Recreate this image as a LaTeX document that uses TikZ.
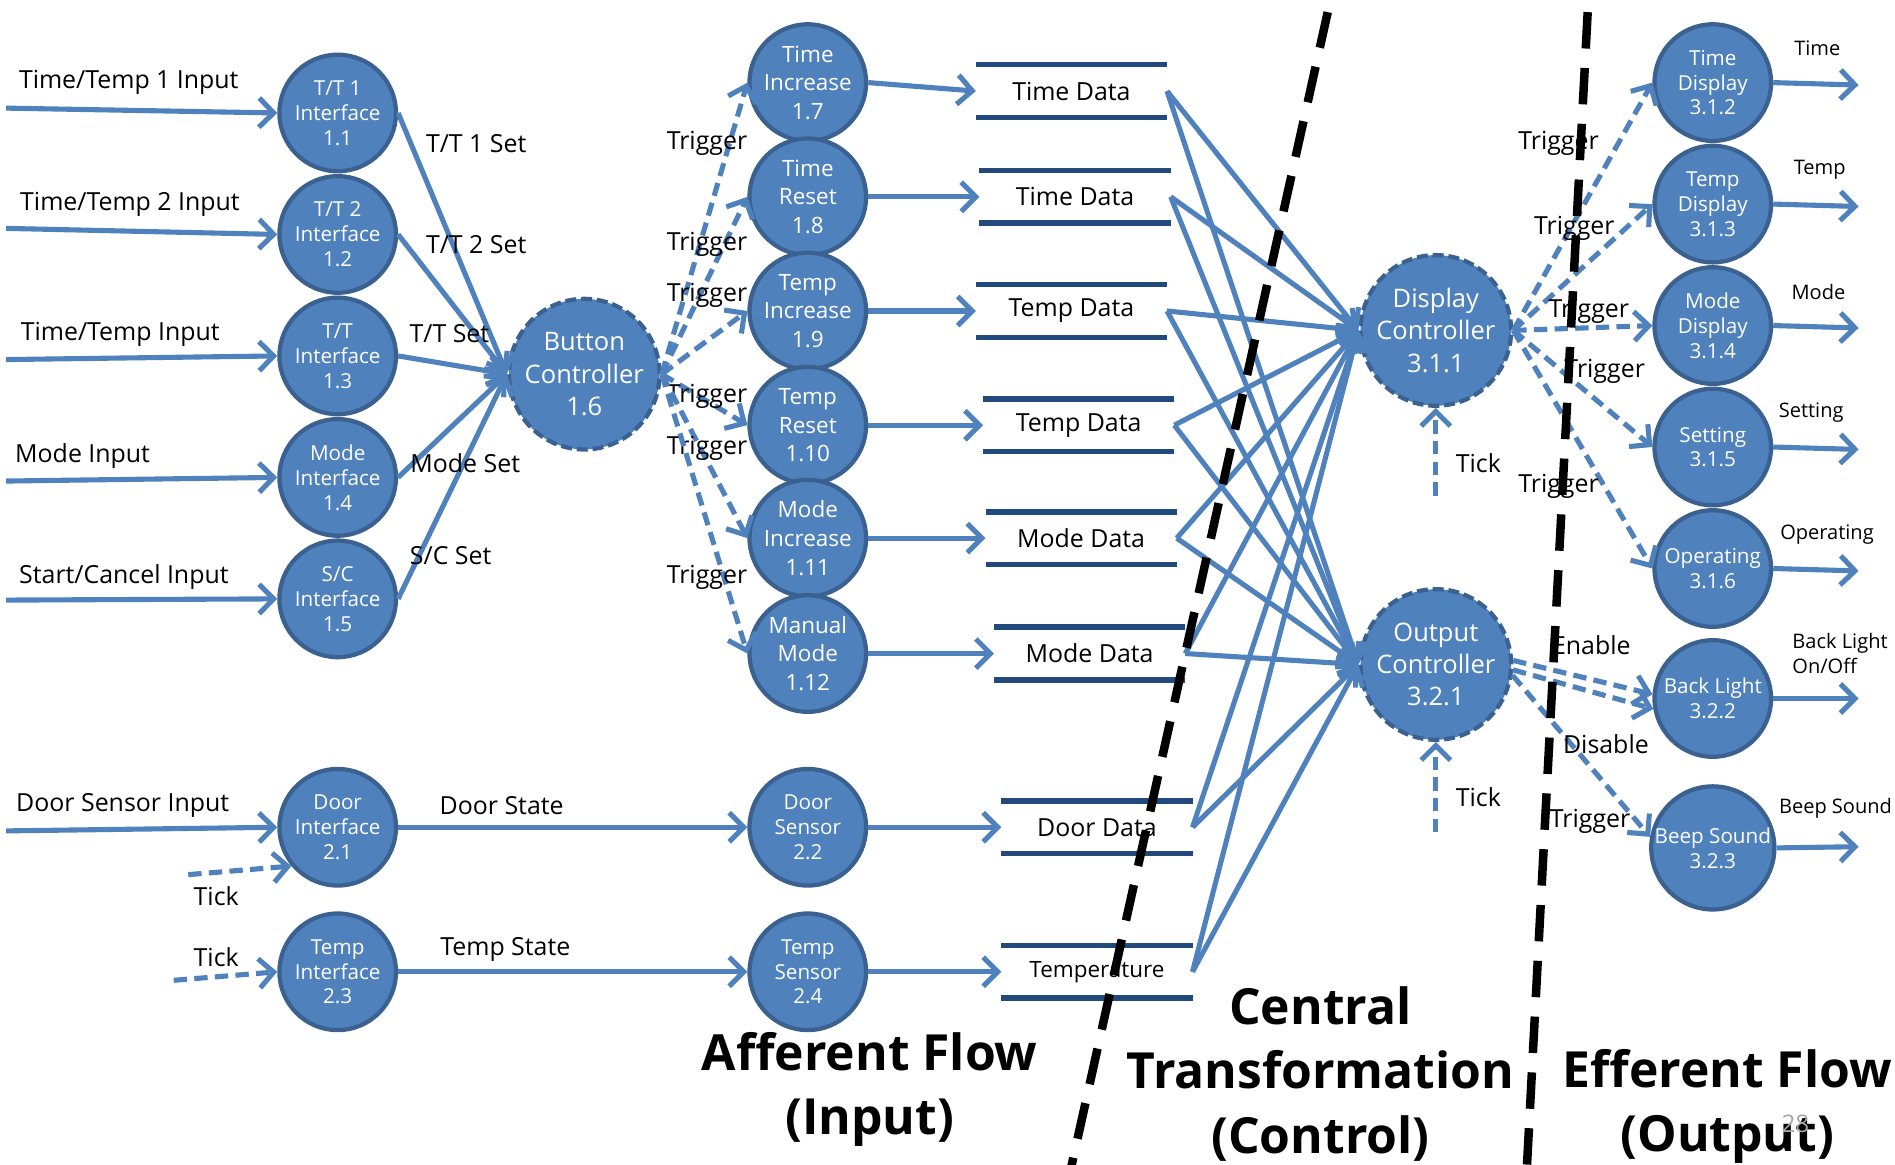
\documentclass[tikz,border=0pt]{standalone}
\usepackage{fontspec}
\setmainfont{Open Sans}
\usepackage{tikz}
\usetikzlibrary{arrows.meta, positioning}
\definecolor{dfdblue}{HTML}{4F81BD}
\definecolor{dfdedge}{HTML}{3A6190}
\definecolor{dfdstore}{HTML}{22497C}
\tikzset{
  proc/.style = {circle, fill=dfdblue, draw=dfdedge, line width=3.5pt,
    minimum size=96pt, inner sep=0pt, align=center, text=white,
    font=\fontsize{17}{20.5}\selectfont},
  bigproc/.style = {proc, font=\fontsize{18.5}{23.5}\selectfont},
  ctrl/.style = {proc, minimum size=124pt, dash pattern=on 9pt off 4pt,
    font=\fontsize{21}{26.5}\selectfont},
  store/.style = {minimum width=157pt, minimum height=43pt, inner sep=0pt,
    font=\fontsize{20.5}{24}\selectfont},
  storeline/.style = {draw=dfdstore, line width=4.5pt},
  flow/.style = {draw=dfdblue, line width=4.2pt,
    -{Straight Barb[length=12pt,width=24pt]}},
  ctl/.style = {flow, dash pattern=on 11pt off 6pt},
  lbl/.style = {font=\fontsize{20.5}{24}\selectfont},
  outlbl/.style = {font=\fontsize{16.5}{20}\selectfont, align=left},
  bound/.style = {draw=black, line width=7pt, dash pattern=on 30pt off 16pt},
  title/.style = {font=\fontsize{41}{53}\selectfont\bfseries, align=center}
}
\begin{document}
\begin{tikzpicture}[x=1pt, y=-1pt]
\useasboundingbox (0,0) rectangle (1560,959);

% afferent processes
\node [proc] (tt1) at (278,93) {T/T 1\\Interface\\1.1};
\node [proc] (tt2) at (278,193) {T/T 2\\Interface\\1.2};
\node [proc] (tt) at (278,293) {T/T\\Interface\\1.3};
\node [proc] (mif) at (278,393) {Mode\\Interface\\1.4};
\node [proc] (scif) at (278,493) {S/C\\Interface\\1.5};
\node [proc] (dif) at (278,681) {Door\\Interface\\2.1};
\node [proc] (tif) at (278,800) {Temp\\Interface\\2.3};
\node [ctrl] (btn) at (481,308) {Button\\Controller\\1.6};

\node [bigproc] (tinc) at (665,68) {Time\\Increase\\1.7};
\node [bigproc] (trst) at (665,162) {Time\\Reset\\1.8};
\node [bigproc] (pinc) at (665,256) {Temp\\Increase\\1.9};
\node [bigproc] (prst) at (665,350) {Temp\\Reset\\1.10};
\node [bigproc] (minc) at (665,443) {Mode\\Increase\\1.11};
\node [bigproc] (mman) at (665,538) {Manual\\Mode\\1.12};
\node [proc] (dsen) at (665,681) {Door\\Sensor\\2.2};
\node [proc] (tsen) at (665,800) {Temp\\Sensor\\2.4};

% data stores
\node [store] (s1) at (882,75) {Time Data};
\node [store] (s2) at (885,162) {Time Data};
\node [store] (s3) at (882,256) {Temp Data};
\node [store] (s4) at (888,350) {Temp Data};
\node [store] (s5) at (890,443) {Mode Data};
\node [store] (s6) at (897,538) {Mode Data};
\node [store] (s7) at (903,681) {Door Data};
\node [store, font=\fontsize{18.5}{22}\selectfont] (s8) at (903,800) {Temperature};
\foreach \s in {s1,s2,s3,s4,s5,s6,s7,s8}
  \draw [storeline] (\s.north west) -- (\s.north east) (\s.south west) -- (\s.south east);

% central transform
\node [ctrl] (dc) at (1182,272) {Display\\Controller\\3.1.1};
\node [ctrl] (oc) at (1182,547) {Output\\Controller\\3.2.1};

% efferent processes
\node [proc] (tdsp) at (1410,68) {Time\\Display\\3.1.2};
\node [proc] (pdsp) at (1410,168) {Temp\\Display\\3.1.3};
\node [proc] (mdsp) at (1410,268) {Mode\\Display\\3.1.4};
\node [proc] (sett) at (1410,368) {Setting\\3.1.5};
\node [proc] (oper) at (1410,468) {Operating\\3.1.6};
\node [proc] (blgt) at (1410,575) {Back Light\\3.2.2};
\node [proc] (beep) at (1410,698) {Beep Sound\\3.2.3};

% inputs
\foreach \n/\y/\t/\lx/\ly in {tt1/89/Time\slash Temp 1 Input/106/68, tt2/188/Time\slash Temp 2 Input/107/168,
    tt/296/Time\slash Temp Input/99/275, mif/396/Mode Input/68/375,
    scif/494/Start\slash Cancel Input/102/475, dif/684/Door Sensor Input/101/663} {
  \coordinate (\n-in) at (5,\y);
  \node [lbl] (\n-lbl) at (\lx,\ly) {\t};
  \draw [flow] (\n-in) -- (\n.west);
}
\coordinate (dtick) at (155,720);
\coordinate (ttick) at (143,807);
\draw [ctl] (dtick) -- (dif.220);
\draw [ctl] (ttick) -- (tif.west);
\node [lbl] (dtick-lbl) at (178,738) {Tick};
\node [lbl] (ttick-lbl) at (178,788) {Tick};

% into button controller
\foreach \n in {tt1,tt2,tt,mif,scif}
  \draw [flow] (\n.east) -- (btn.west);
\node [lbl] (set1) at (392,118) {T/T 1 Set};
\node [lbl] (set2) at (392,201) {T/T 2 Set};
\node [lbl] (set3) at (370,275) {T/T Set};
\node [lbl] (set4) at (383,381) {Mode Set};
\node [lbl] (set5) at (371,457) {S/C Set};

% triggers from button controller
\foreach \n/\ly in {tinc/118, trst/201, pinc/243, prst/326, minc/369, mman/475} {
  \draw [ctl] (btn.east) -- (\n.west);
  \node [lbl] (\n-trg) at (582,\ly) {Trigger};
}

% door and temp states
\draw [flow] (dif.east) -- (dsen.west);
\draw [flow] (tif.east) -- (tsen.west);
\node [lbl] (dstate) at (413,663) {Door State};
\node [lbl] (tstate) at (416,782) {Temp State};

% into stores, stores to controllers
\foreach \n/\s in {tinc/s1, trst/s2, pinc/s3, prst/s4, minc/s5, mman/s6, dsen/s7, tsen/s8} {
  \draw [flow] (\n.east) -- (\s.west);
  \draw [flow] (\s.east) -- (dc.west);
  \draw [flow] (\s.east) -- (oc.west);
}

% ticks into controllers
\coordinate (dctick) at (1182,408);
\coordinate (octick) at (1182,685);
\draw [ctl] (dctick) -- (dc.south);
\draw [ctl] (octick) -- (oc.south);
\node [lbl] (dctick-lbl) at (1217,381) {Tick};
\node [lbl] (octick-lbl) at (1217,656) {Tick};

% triggers from controllers
\foreach \n/\lx/\ly in {tdsp/1283/118, pdsp/1296/188, mdsp/1308/256, sett/1321/306, oper/1283/400} {
  \draw [ctl] (dc.east) -- (\n.west);
  \node [lbl] (\n-trg) at (\lx,\ly) {Trigger};
}
\draw [ctl] (oc.3) -- (blgt.176);
\draw [ctl] (oc.-4) -- (blgt.190);
\draw [ctl] (oc.-8) -- (beep.170);
\node [lbl] (enbl) at (1310,531) {Enable};
\node [lbl] (dsbl) at (1322,613) {Disable};
\node [lbl] (beep-trg) at (1309,676) {Trigger};

% outputs
\foreach \n/\y/\t/\lx/\ly in {tdsp/70/Time/1496/40, pdsp/170/Temp/1498/140, mdsp/270/Mode/1497/240,
    sett/370/Setting/1491/340, oper/470/Operating/1504/440, beep/697/Beep Sound/1511/665} {
  \coordinate (\n-out) at (1530,\y);
  \draw [flow] (\n.east) -- (\n-out);
  \node [outlbl] (\n-lbl) at (\lx,\ly) {\t};
}
\coordinate (blgt-out) at (1530,575);
\draw [flow] (blgt.east) -- (blgt-out);
\node [outlbl, anchor=west] (blgt-lbl) at (1472,538) {Back Light\\On/Off};

% boundaries
\draw [bound] (1093,10) -- (882,960);
\draw [bound] (1307,10) -- (1257,960);

% titles
\node [title] (aff) at (716,897) {Afferent Flow\\(Input)};
\node [title] (cen) at (1087,884) {Central\\Transformation\\(Control)};
\node [title] (eff) at (1422,911) {Efferent Flow\\(Output)};
\node [text=black!35, font=\fontsize{20}{24}\selectfont] (pg) at (1478,925) {28};
\end{tikzpicture}
\end{document}
